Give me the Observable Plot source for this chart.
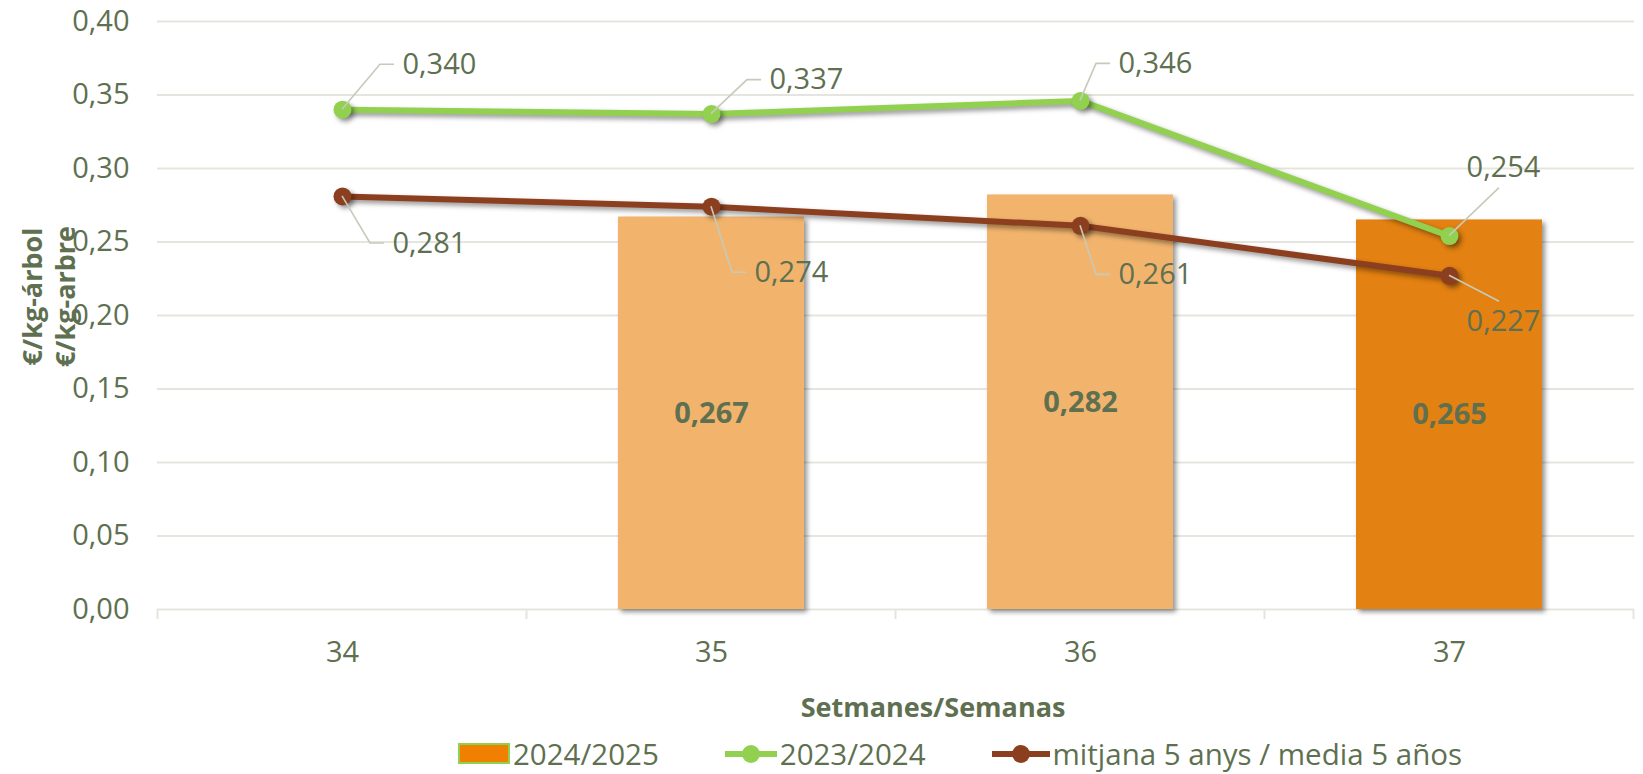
<!DOCTYPE html>
<html>
<head>
<meta charset="utf-8">
<script src="https://cdn.jsdelivr.net/npm/d3@7"></script>
<script src="https://cdn.jsdelivr.net/npm/@observablehq/plot@0.6"></script>
<style>
  html, body { margin: 0; padding: 0; background: #ffffff; overflow: hidden; }
  #chart { width: 1643px; height: 774px; font-family: 'Open Sans', sans-serif; color: #5E7050; }
  #chart svg g[aria-label="bar"],
  #chart svg g[aria-label="line"],
  #chart svg g[aria-label="dot"] { filter: drop-shadow(3px 3px 2.5px rgba(0,0,0,0.42)); }
  .legend { display: flex; align-items: center; height: 46px; padding-left: 458px; font-size: 29.5px; line-height: 1.15; color: #5E7050; font-family: 'Open Sans', sans-serif; position: relative; top: 3px; }
  .legend .item { display: flex; align-items: center; }
  .legend .sw-rect { width: 52px; height: 21px; box-sizing: border-box; background: #F08000; border: 2px solid #92D050; margin-right: 3px; }
  .legend svg { display: block; margin-right: 3px; }
</style>
</head>
<body>
<div id="chart"></div>
<script>
// ---------- data ----------
const weeks = ["34", "35", "36", "37"];
const season2425 = [null, 0.267, 0.282, 0.265];   // 2024/2025 (bars)
const season2324 = [0.340, 0.337, 0.346, 0.254];  // 2023/2024 (green line)
const average5   = [0.281, 0.274, 0.261, 0.227];  // mitjana 5 anys (brown line)
const yTicks = [0, 0.05, 0.10, 0.15, 0.20, 0.25, 0.30, 0.35, 0.40];
const seriesNames = ["2024/2025", "2023/2024", "mitjana 5 anys / media 5 años"];
const yTitles = ["€/kg-árbol", "€/kg-arbre"];
const xTitle = "Setmanes/Semanas";

// ---------- styles / layout ----------
const textColor = "#5E7050";
const gridColor = "#E5E5DF";
const greenColor = "#92D050";
const brownColor = "#8C3F1F";
const barLight = "#F2B46D";
const barDark = "#E38112";
const leaderColor = "#C6CABA";
const W = 1643, H = 728;
const mL = 157, mR = 9, mT = 21, mB = 119;
const fs = 29;

// label offsets (pixels, relative to the point)
const greenLabelPos = [
  {dx: 60, dy: -45, anchor: "start"},
  {dx: 58, dy: -34, anchor: "start"},
  {dx: 38, dy: -37, anchor: "start"},
  {dx: 54, dy: -68, anchor: "middle"}
];
const brownLabelPos = [
  {dx: 50, dy: 47, anchor: "start"},
  {dx: 43, dy: 66, anchor: "start"},
  {dx: 38, dy: 49, anchor: "start"},
  {dx: 54, dy: 46, anchor: "middle"}
];

const fmt2 = v => v.toFixed(2).replace(".", ",");
const fmt3 = v => v.toFixed(3).replace(".", ",");

const bars = weeks.map((w, i) => ({week: w, value: season2425[i]})).filter(d => d.value != null);
const green = weeks.map((w, i) => ({week: w, value: season2324[i]}));
const brown = weeks.map((w, i) => ({week: w, value: average5[i]}));
const lastWeek = weeks[weeks.length - 1];

function labelMarks(data, pos) {
  return data.map((d, i) => Plot.text([d], {
    x: "week", y: "value", text: dd => fmt3(dd.value),
    dx: pos[i].dx, dy: pos[i].dy, textAnchor: pos[i].anchor, lineAnchor: "middle",
    fontSize: fs, fill: textColor
  }));
}

function annotations(index, scales) {
  const sx = scales.x, sy = scales.y;
  const bw = sx.bandwidth ? sx.bandwidth() : 0;
  const step = sx.step ? sx.step() : bw;
  const g = d3.create("svg:g");
  const y0 = sy(0);
  const bounds = weeks.map(w => sx(w) + bw / 2 - step / 2);
  bounds.push(sx(lastWeek) + bw / 2 + step / 2);
  g.append("g").selectAll("line").data(bounds).join("line")
    .attr("x1", d => d).attr("x2", d => d)
    .attr("y1", y0).attr("y2", y0 + 10)
    .attr("stroke", gridColor).attr("stroke-width", 2);
  const leaders = [];
  [[green, greenLabelPos, -1], [brown, brownLabelPos, 1]].forEach(([data, pos, dir]) => {
    data.forEach((d, i) => {
      const px = sx(d.week) + bw / 2, py = sy(d.value);
      const p = pos[i];
      let pts;
      if (p.anchor === "start") {
        pts = [[px, py], [px + p.dx - 22, py + p.dy], [px + p.dx - 8, py + p.dy]];
      } else {
        pts = [[px, py], [px + p.dx - 4, py + p.dy - dir * 20]];
      }
      leaders.push(pts);
    });
  });
  g.append("g").selectAll("path").data(leaders).join("path")
    .attr("d", d => d3.line()(d))
    .attr("fill", "none").attr("stroke", leaderColor).attr("stroke-width", 1.6);
  return g.node();
}

const chart = Plot.plot({
  width: W, height: H,
  marginLeft: mL, marginRight: mR, marginTop: mT, marginBottom: mB,
  style: {fontFamily: "'Open Sans', sans-serif", fontSize: fs + "px", color: textColor, background: "#ffffff", overflow: "visible"},
  x: {type: "band", domain: weeks, paddingInner: 0.495, paddingOuter: 0.2475, tickSize: 0, tickPadding: 32, label: null},
  y: {domain: [0, 0.4], ticks: yTicks, tickFormat: fmt2, tickSize: 0, tickPadding: 28, label: null},
  marks: [
    Plot.ruleY(yTicks, {stroke: gridColor, strokeWidth: 2}),
    Plot.barY(bars, {x: "week", y: "value", fill: d => d.week === lastWeek ? barDark : barLight}),
    Plot.text(bars, {x: "week", y: d => d.value / 2, text: d => fmt3(d.value), fontWeight: "bold", fontSize: fs, fill: textColor, lineAnchor: "middle"}),
    Plot.line(brown, {x: "week", y: "value", stroke: brownColor, strokeWidth: 6}),
    Plot.line(green, {x: "week", y: "value", stroke: greenColor, strokeWidth: 6}),
    Plot.dot(brown, {x: "week", y: "value", r: 9, fill: brownColor}),
    Plot.dot(green, {x: "week", y: "value", r: 9, fill: greenColor}),
    annotations,
    ...labelMarks(green, greenLabelPos),
    ...labelMarks(brown, brownLabelPos),
    Plot.text([yTitles[0]], {frameAnchor: "left", text: d => d, rotate: -90, dx: -124, dy: -19, textAnchor: "middle", fontWeight: "bold", fontSize: 27, fill: textColor, lineAnchor: "middle"}),
    Plot.text([yTitles[1]], {frameAnchor: "left", text: d => d, rotate: -90, dx: -91, dy: -19, textAnchor: "middle", fontWeight: "bold", fontSize: 27, fill: textColor, lineAnchor: "middle"}),
    Plot.text([xTitle], {frameAnchor: "bottom", text: d => d, dx: 37, dy: 99, textAnchor: "middle", fontWeight: "bold", fontSize: 27, fill: textColor, lineAnchor: "middle"})
  ]
});

const root = document.getElementById("chart");
root.appendChild(chart);

// legend (HTML, below the SVG)
const legend = document.createElement("div");
legend.className = "legend";
function lineSwatch(color, w) {
  return `<svg width="${w}" height="22"><line x1="0" x2="${w}" y1="11" y2="11" stroke="${color}" stroke-width="6"/><circle cx="${w/2}" cy="11" r="9" fill="${color}"/></svg>`;
}
legend.innerHTML =
  `<div class="item"><div class="sw-rect"></div><span>${seriesNames[0]}</span></div>` +
  `<div class="item" style="margin-left:66px">${lineSwatch(greenColor, 52)}<span>${seriesNames[1]}</span></div>` +
  `<div class="item" style="margin-left:66px">${lineSwatch(brownColor, 58)}<span>${seriesNames[2]}</span></div>`;
root.appendChild(legend);
</script>
</body>
</html>
